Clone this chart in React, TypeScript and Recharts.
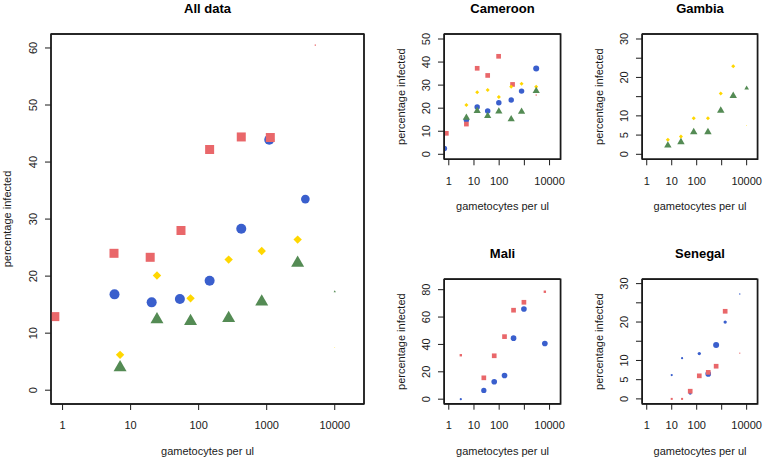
import React from 'react';
import { ScatterChart, Scatter, XAxis, YAxis, ZAxis } from 'recharts';

const FONT = '"Liberation Sans", Arial, Helvetica, sans-serif';
const RED = '#E9676A';
const BLUE = '#3A5FCD';
const YELLOW = '#FFD700';
const GREEN = '#548B54';
const INK = '#1a1a1a';

type Tri = [number, number, number]; // [gametocytes per ul, percentage infected, weight]

// ---- All data ----
const ALL_RED: Tri[] = [[0.77, 12.9, 100], [5.7, 24.0, 100], [19.4, 23.3, 100], [55, 28.0, 100], [145, 42.2, 100], [423, 44.4, 100], [1130, 44.3, 100], [5180, 60.5, 2]];
const ALL_BLUE: Tri[] = [[5.8, 16.8, 100], [20.4, 15.4, 100], [53, 16.0, 100], [145, 19.2, 100], [423, 28.3, 100], [1090, 43.9, 100], [3700, 33.5, 75]];
const ALL_YELLOW: Tri[] = [[7, 6.2, 100], [24.4, 20.1, 100], [76, 16.1, 100], [276, 22.9, 100], [845, 24.4, 100], [2850, 26.4, 100], [10000, 7.5, 1]];
const ALL_GREEN: Tri[] = [[7, 4.0, 100], [24.4, 12.4, 100], [76, 12.1, 100], [276, 12.6, 100], [845, 15.5, 100], [2850, 22.3, 100], [10000, 17.3, 3]];

// ---- Cameroon ----
const CAM_RED: Tri[] = [[0.8, 9.1, 27], [5.0, 13.1, 27], [13.4, 37.3, 27], [35, 34.2, 27], [95, 42.5, 27], [340, 30.3, 27], [2950, 25.7, 2]];
const CAM_BLUE: Tri[] = [[0.67, 2.5, 30], [5.0, 14.9, 30], [13.4, 20.5, 30], [35, 18.8, 30], [97, 22.4, 30], [300, 23.5, 30], [775, 27.4, 30], [2950, 37.2, 36]];
const CAM_YELLOW: Tri[] = [[5.0, 21.4, 23], [13.4, 26.9, 23], [35, 27.9, 23], [97, 24.8, 23], [300, 29.3, 23], [775, 30.6, 23], [2950, 29.3, 23]];
const CAM_GREEN: Tri[] = [[5.0, 15.9, 31], [13.4, 18.8, 31], [35, 16.6, 31], [97, 18.6, 31], [300, 15.2, 31], [775, 18.5, 31], [2950, 27.5, 31]];

// ---- Gambia ----
const GAM_YELLOW: Tri[] = [[7, 3.8, 23], [23.4, 4.6, 23], [76, 9.4, 23], [282, 9.4, 23], [920, 15.8, 23], [2900, 22.9, 23], [10000, 7.5, 1]];
const GAM_GREEN: Tri[] = [[7, 2.3, 33], [23.4, 3.2, 33], [76, 5.8, 33], [282, 5.8, 33], [920, 11.4, 33], [2900, 15.2, 33], [10000, 17.2, 13]];

// ---- Mali ----
const MALI_RED: Tri[] = [[3.0, 32.1, 7], [24.6, 15.6, 27], [63.6, 31.7, 27], [163, 45.7, 27], [372, 65.0, 27], [960, 70.8, 27], [6500, 78.5, 7]];
const MALI_BLUE: Tri[] = [[3.0, 0, 5], [24.6, 6.4, 28], [63.6, 12.7, 32], [163, 17.3, 32], [372, 44.6, 32], [960, 65.9, 32], [6500, 40.7, 32]];

// ---- Senegal ----
const SEN_RED: Tri[] = [[10, 0, 5], [26, 0, 5], [55, 2.0, 27], [127, 6.0, 27], [290, 6.9, 27], [600, 8.5, 27], [1380, 22.8, 27], [5300, 11.9, 1.5]];
const SEN_BLUE: Tri[] = [[10, 6.2, 5], [26, 10.6, 5], [55, 1.5, 11], [127, 11.8, 11], [290, 6.5, 32], [600, 14.0, 36], [1380, 20.0, 11], [5300, 27.3, 2]];

// ---- ticks ----
const X_TICKS = [1, 10, 100, 1000, 10000];
const X_LABELS_MAIN = [1, 10, 100, 1000, 10000];
const X_LABELS_SUB = [1, 10, 100, 10000];
const Y_TICKS_ALL = [0, 10, 20, 30, 40, 50, 60];
const Y_TICKS_CAM = [0, 10, 20, 30, 40, 50];
const Y_TICKS_30 = [0, 5, 10, 15, 20, 25, 30];
const Y_LABELS_30 = [0, 5, 10, 20, 30];
const Y_TICKS_MALI = [0, 20, 40, 60, 80];

const toPts = (a: Tri[]) => a.map(([x, y, n]) => ({ x, y, n }));

const diam = (p: any) => {
  if (typeof p.size === 'number' && p.size > 0) return 2 * Math.sqrt(p.size / Math.PI);
  if (p.payload && typeof p.payload.n === 'number') return Math.sqrt(p.payload.n);
  return 5;
};

const circleShape = (color: string) => (p: any) => {
  if (p.cx == null || p.cy == null) return <g />;
  return <circle cx={p.cx} cy={p.cy} r={diam(p) / 2} fill={color} />;
};
const squareShape = (color: string) => (p: any) => {
  if (p.cx == null || p.cy == null) return <g />;
  const s = 0.9 * diam(p);
  return <rect x={p.cx - s / 2} y={p.cy - s / 2} width={s} height={s} fill={color} />;
};
const diamondShape = (color: string) => (p: any) => {
  if (p.cx == null || p.cy == null) return <g />;
  const h = 0.42 * diam(p);
  const { cx, cy } = p;
  return <polygon points={`${cx},${cy - h} ${cx + h},${cy} ${cx},${cy + h} ${cx - h},${cy}`} fill={color} />;
};
const triangleShape = (color: string) => (p: any) => {
  if (p.cx == null || p.cy == null) return <g />;
  const r = 0.75 * diam(p);
  const { cx, cy } = p;
  const hw = r * 0.866;
  return <polygon points={`${cx},${cy - r} ${cx + hw},${cy + r / 2} ${cx - hw},${cy + r / 2}`} fill={color} />;
};

type Series = { name: string; data: Tri[]; shape: any };
type Box = { x0: number; x1: number; y0: number; y1: number };

const L = 50, T = 10, R = 6, B = 40;
const FRAME = { stroke: INK, strokeWidth: 1.4 };

function Panel({ box, xDomain, yDomain, yTicks, yLabels, xLabels, series }: {
  box: Box; xDomain: [number, number]; yDomain: [number, number]; yTicks: number[]; yLabels: number[]; xLabels: number[]; series: Series[];
}) {
  const w = box.x1 - box.x0;
  const h = box.y1 - box.y0;
  const xTick = (p: any) => {
    const v = p.payload ? p.payload.value : null;
    if (v == null || xLabels.indexOf(v) < 0) return <g />;
    return (
      <text x={p.x} y={p.y} textAnchor="middle" fontSize={11} fontFamily={FONT} fill={INK}>{String(v)}</text>
    );
  };
  const yTick = (p: any) => {
    const v = p.payload ? p.payload.value : null;
    if (v == null || yLabels.indexOf(v) < 0) return <g />;
    return (
      <text x={p.x} y={p.y} transform={`rotate(-90, ${p.x}, ${p.y})`} textAnchor="middle" fontSize={11} fontFamily={FONT} fill={INK}>{String(v)}</text>
    );
  };
  return (
    <div style={{ position: 'absolute', left: box.x0 - L, top: box.y0 - T }}>
      <ScatterChart width={w + L + R} height={h + T + B} margin={{ top: T - 1, right: R - 1, bottom: 0, left: 0 }}>
        <XAxis xAxisId="b" type="number" dataKey="x" scale="log" domain={xDomain} allowDataOverflow ticks={X_TICKS} interval={0}
          axisLine={FRAME} tickLine={{ stroke: INK, strokeWidth: 1 }} tickSize={6} tickMargin={19.3} height={B} tick={xTick} />
        <XAxis xAxisId="t" orientation="top" type="number" dataKey="x" scale="log" domain={xDomain} allowDataOverflow
          ticks={X_TICKS} height={1} axisLine={FRAME} tick={false} tickLine={false} />
        <YAxis yAxisId="l" type="number" dataKey="y" domain={yDomain} allowDataOverflow ticks={yTicks} interval={0}
          axisLine={FRAME} tickLine={{ stroke: INK, strokeWidth: 1 }} tickSize={6} tickMargin={8.3} width={L} tick={yTick} />
        <YAxis yAxisId="r" orientation="right" type="number" dataKey="y" domain={yDomain} allowDataOverflow
          ticks={yTicks} width={1} axisLine={FRAME} tick={false} tickLine={false} />
        <ZAxis type="number" dataKey="n" domain={[0, 100]} range={[0, 25 * Math.PI]} />
        {series.map((s) => (
          <Scatter key={s.name} name={s.name} xAxisId="b" yAxisId="l" data={toPts(s.data)} shape={s.shape} isAnimationActive={false} />
        ))}
        <Scatter name="frame" xAxisId="t" yAxisId="r" data={[]} isAnimationActive={false} />
      </ScatterChart>
    </div>
  );
}

const MAIN_XD: [number, number] = [Math.pow(10, -0.17), Math.pow(10, 4.43)];
const SUB_XD: [number, number] = [Math.pow(10, -0.19), Math.pow(10, 4.43)];

const BOX_ALL: Box = { x0: 51, x1: 364, y0: 34, y1: 404 };
const BOX_CAM: Box = { x0: 444.3, x1: 560.7, y0: 34, y1: 159.3 };
const BOX_GAM: Box = { x0: 642.3, x1: 757.7, y0: 34, y1: 159.3 };
const BOX_MALI: Box = { x0: 444.3, x1: 560.7, y0: 279.3, y1: 404 };
const BOX_SEN: Box = { x0: 642.3, x1: 757.7, y0: 279.3, y1: 404 };

function Labels({ box, title }: { box: Box; title: string }) {
  const cx = (box.x0 + box.x1) / 2;
  const cy = (box.y0 + box.y1) / 2;
  const yx = box.x0 - 39.7;
  return (
    <g>
      <path d={`M${box.x0},${box.y1} L${box.x0},${box.y0} L${box.x1},${box.y0} L${box.x1},${box.y1} Z`} fill="none" stroke={INK} strokeWidth={1.4} />
      <text x={cx} y={box.y0 - 21} textAnchor="middle" fontSize={13} fontWeight="bold" fontFamily={FONT} fill="#000">{title}</text>
      <text x={cx} y={box.y1 + 51} textAnchor="middle" fontSize={11} fontFamily={FONT} fill={INK}>gametocytes per ul</text>
      <text x={yx} y={cy} transform={`rotate(-90, ${yx}, ${cy})`} textAnchor="middle" fontSize={11} fontFamily={FONT} fill={INK}>percentage infected</text>
    </g>
  );
}

export default function App() {
  return (
    <div style={{ position: 'absolute', left: 0, top: 0, width: 765, height: 461, background: '#fff', overflow: 'hidden', fontFamily: FONT }}>
      <Panel box={BOX_ALL} xDomain={MAIN_XD} yDomain={[-2.42, 62.45]} yTicks={Y_TICKS_ALL} yLabels={Y_TICKS_ALL} xLabels={X_LABELS_MAIN}
        series={[
          { name: 'blue', data: ALL_BLUE, shape: circleShape(BLUE) },
          { name: 'red', data: ALL_RED, shape: squareShape(RED) },
          { name: 'yellow', data: ALL_YELLOW, shape: diamondShape(YELLOW) },
          { name: 'green', data: ALL_GREEN, shape: triangleShape(GREEN) },
        ]} />
      <Panel box={BOX_CAM} xDomain={SUB_XD} yDomain={[-2.17, 52.17]} yTicks={Y_TICKS_CAM} yLabels={Y_TICKS_CAM} xLabels={X_LABELS_SUB}
        series={[
          { name: 'blue', data: CAM_BLUE, shape: circleShape(BLUE) },
          { name: 'red', data: CAM_RED, shape: squareShape(RED) },
          { name: 'yellow', data: CAM_YELLOW, shape: diamondShape(YELLOW) },
          { name: 'green', data: CAM_GREEN, shape: triangleShape(GREEN) },
        ]} />
      <Panel box={BOX_GAM} xDomain={SUB_XD} yDomain={[-1.3, 31.3]} yTicks={Y_TICKS_30} yLabels={Y_LABELS_30} xLabels={X_LABELS_SUB}
        series={[
          { name: 'yellow', data: GAM_YELLOW, shape: diamondShape(YELLOW) },
          { name: 'green', data: GAM_GREEN, shape: triangleShape(GREEN) },
        ]} />
      <Panel box={BOX_MALI} xDomain={SUB_XD} yDomain={[-3.3, 87.8]} yTicks={Y_TICKS_MALI} yLabels={Y_TICKS_MALI} xLabels={X_LABELS_SUB}
        series={[
          { name: 'blue', data: MALI_BLUE, shape: circleShape(BLUE) },
          { name: 'red', data: MALI_RED, shape: squareShape(RED) },
        ]} />
      <Panel box={BOX_SEN} xDomain={SUB_XD} yDomain={[-1.25, 31.2]} yTicks={Y_TICKS_30} yLabels={Y_LABELS_30} xLabels={X_LABELS_SUB}
        series={[
          { name: 'blue', data: SEN_BLUE, shape: circleShape(BLUE) },
          { name: 'red', data: SEN_RED, shape: squareShape(RED) },
        ]} />
      <svg width={765} height={461} style={{ position: 'absolute', left: 0, top: 0, pointerEvents: 'none', zIndex: 6 }}>
        <Labels box={BOX_ALL} title="All data" />
        <Labels box={BOX_CAM} title="Cameroon" />
        <Labels box={BOX_GAM} title="Gambia" />
        <Labels box={BOX_MALI} title="Mali" />
        <Labels box={BOX_SEN} title="Senegal" />
      </svg>
    </div>
  );
}
